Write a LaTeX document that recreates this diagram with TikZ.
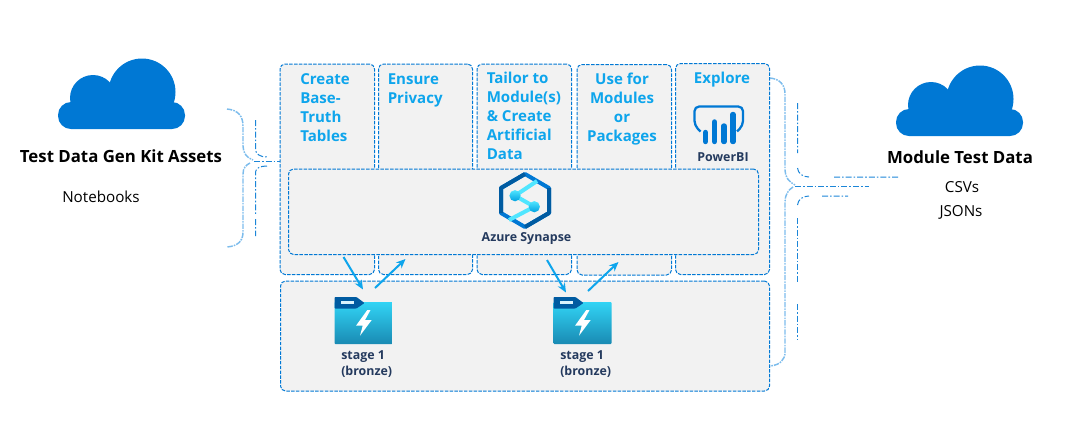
\documentclass[tikz,border=0pt]{standalone}
\usepackage{fontspec}
\setmainfont{Open Sans}
\usetikzlibrary{arrows.meta,shadings}
\definecolor{azure}{HTML}{0078D4}
\definecolor{azdark}{HTML}{005BA1}
\definecolor{labelblue}{HTML}{0EA5EC}
\definecolor{inkblue}{HTML}{243A5E}
\definecolor{panel}{HTML}{F2F2F2}
\definecolor{bracelight}{HTML}{7CBCEC}
\definecolor{bracethincol}{HTML}{1C86D8}
\definecolor{cyanlight}{HTML}{50E6FF}
\definecolor{foldertop}{HTML}{32D4F5}
\definecolor{folderbot}{HTML}{198AB3}
\newcommand\pxbox[5]{\node[panelbox,anchor=north west,minimum width={(#4-#2)*0.75pt},minimum height={(#5-#3)*0.75pt}] (#1) at (#2,#3) {};}
\tikzset{
  panelbox/.style={draw=azure,fill=panel,line width=0.75pt,dash pattern=on 2.6pt off 1pt,rounded corners=3.75pt,inner sep=0pt,outer sep=0pt},
  steptext/.style={text=labelblue,font=\fontsize{11.3}{14.25}\selectfont\bfseries,inner sep=0pt},
  icontext/.style={text=inkblue,font=\fontsize{9.3}{12}\selectfont\bfseries,inner sep=0pt},
  headtext/.style={text=black,font=\fontsize{12.6}{15}\selectfont\bfseries,inner sep=0pt},
  subtext/.style={text=black,font=\fontsize{11.4}{14}\selectfont,inner sep=0pt},
  flow/.style={draw=labelblue,line width=1.5pt,-{Stealth[length=7pt,width=6pt]}},
  bracemain/.style={draw=bracelight,line width=1.1pt,dash pattern=on 4pt off 0.8pt on 1.2pt off 0.8pt},
  bracethin/.style={draw=bracethincol,line width=0.75pt,dash pattern=on 4.5pt off 1.5pt on 1.2pt off 1.5pt},
  cloud pic/.pic={
    \fill[azure] (84,34) circle (33.5);
    \fill[azure] (35,40) circle (23);
    \fill[azure,rounded corners=9.75pt] (0,44) rectangle (127,71);
    \fill[azure] (35,30) rectangle (100,50);
  },
  folder pic/.pic={
    \shade[top color=foldertop,bottom color=folderbot,rounded corners=0.6pt] (0,5) rectangle (58,47);
    \fill[azdark,rounded corners=0.6pt] (0,0) -- (0,11.5) -- (22,11.5) -- (30,6) -- (22,0) -- cycle;
    \fill[white!85!cyan] (6,3.5) rectangle (19,6.5);
    \fill[white] (32.8,13) -- (21.5,28.7) -- (28.2,28.7) -- (25.5,38.7) -- (37.2,23) -- (30.5,23) -- (36,13) -- cycle;
  }
}
\begin{document}
\begin{tikzpicture}[x=0.75pt,y=-0.75pt]
\useasboundingbox (0,0) rectangle (1087,430);
% panels
\pxbox{p1}{280}{64}{374.5}{274.5}
\pxbox{p2}{378.5}{64}{472.5}{274.5}
\pxbox{p3}{477}{64}{571.5}{274.5}
\pxbox{p4}{577}{64.5}{671.5}{275}
\pxbox{p5}{675.5}{63.5}{769.5}{274.5}
\pxbox{syn}{288.5}{169}{758.5}{254.5}
\pxbox{lake}{280.5}{281}{769.5}{391}
% step labels
\node[steptext,anchor=west,align=left] (t1) at (300,107.5) {Create\\Base-\\Truth\\Tables};
\node[steptext,anchor=west,align=left] (t2) at (387.5,90.5) {Ensure\\Privacy};
\node[steptext,anchor=west,align=left] (t3) at (486.5,116) {Tailor to\\Module(s)\\\& Create\\Artificial\\Data};
\node[steptext,align=center] (t4) at (622,109) {Use for\\Modules\\or\\Packages};
\node[steptext] (t5) at (722,79.5) {Explore};
% Power BI icon
\draw[azure,line width=1.7pt,rounded corners=3.5pt] (700.5,131.5) -- (694.5,125.5) -- (694.5,106.5) -- (743,106.5) -- (743,125.5) -- (737,131.5);
\foreach \bx/\by in {705.5/132.5,714.5/122,724/126,733/114.5}
  \draw[azure,line width=4.1pt,line cap=round] (\bx,\by) -- (\bx,141.5);
\node[icontext] (pbi) at (723,157) {PowerBI};
% Synapse icon
\draw[azure,line width=3pt,line join=round] (525,174) -- (549,188) -- (549,213) -- (525,227) -- (501,213) -- (501,188) -- cycle;
\draw[azdark,line width=3pt,line join=round] (501,213) -- (501,188) -- (525,174);
\draw[azdark,line width=3pt,line join=round] (549,188) -- (549,213) -- (525,227);
\draw[cyanlight,line width=3pt] (537,181) -- (515,195.7) -- (534.3,206.7) -- (509,220);
\shade[top color=cyanlight,bottom color=azure!70!cyan] (515,195.7) circle (5.6);
\shade[top color=cyanlight,bottom color=azure!70!cyan] (534.3,206.7) circle (5.6);
\node[icontext] (synlabel) at (526.5,238) {Azure Synapse};
% folders
\pic at (334.5,297) {folder pic};
\pic at (553.5,297) {folder pic};
\node[icontext,anchor=west,align=left] (s1) at (341,364) {stage 1\\(bronze)};
\node[icontext,anchor=west,align=left] (s2) at (560,364) {stage 1\\(bronze)};
% flow arrows
\coordinate (a1s) at (343.5,257);
\coordinate (a1e) at (363,289.5);
\coordinate (a2s) at (375,288);
\coordinate (a2e) at (405.5,259);
\coordinate (a3s) at (547,260);
\coordinate (a3e) at (566,292.5);
\coordinate (a4s) at (588,291);
\coordinate (a4e) at (618.5,262);
\draw[flow] (a1s) -- (a1e);
\draw[flow] (a2s) -- (a2e);
\draw[flow] (a3s) -- (a3e);
\draw[flow] (a4s) -- (a4e);
% clouds and side labels
\pic at (58,58) {cloud pic};
\pic at (896,65) {cloud pic};
\node[headtext] (hl) at (121,156.5) {Test Data Gen Kit Assets};
\node[subtext] (nb) at (101,196.5) {Notebooks};
\node[headtext] (hr) at (960,157.5) {Module Test Data};
\node[subtext] (csv) at (962,187.5) {CSVs};
\node[subtext] (json) at (961,212) {JSONs};
% left brace
\draw[bracemain] (227,109) .. controls (238,110) and (243,116) .. (243,126) -- (243,146) .. controls (243,153) and (247,158) .. (253,160);
\draw[bracemain] (250,163) .. controls (246,165) and (243,168) .. (243,174) -- (243,232) .. controls (243,241) and (238,246) .. (227,247);
\coordinate (lj) at (254,161);
\draw[bracethin] (lj) -- (p1.west |- lj);
\draw[bracethin] (255.5,120) -- (255.5,150) .. controls (256,154) and (260,157) .. (267,157);
\draw[bracethin] (267,166) .. controls (260,166) and (256,168) .. (255.5,172) -- (255.5,215) (255.5,219) -- (255.5,236);
% right brace
\draw[bracemain] (770,78) .. controls (780,79) and (785,85) .. (785,94) -- (785,170) .. controls (785,177) and (789,182) .. (795,185);
\draw[bracemain] (793,187) .. controls (788,190) and (785,195) .. (785,202) -- (785,352) .. controls (785,360) and (780,365) .. (770,366);
\coordinate (rj) at (795,186);
\coordinate (rjend) at (869,186);
\draw[bracethin] (rj) -- (rjend);
\draw[bracethin] (797.5,103) -- (797.5,153) (797.5,168) .. controls (798,173) and (802,177) .. (809,177) (834,177) -- (898,177);
\draw[bracethin] (797.5,205) .. controls (798,200) and (802,196) .. (809,196) (822,196) -- (848,196);
\draw[bracethin] (797.5,218) -- (797.5,283) (797.5,304) -- (797.5,340);
\end{tikzpicture}
\end{document}
